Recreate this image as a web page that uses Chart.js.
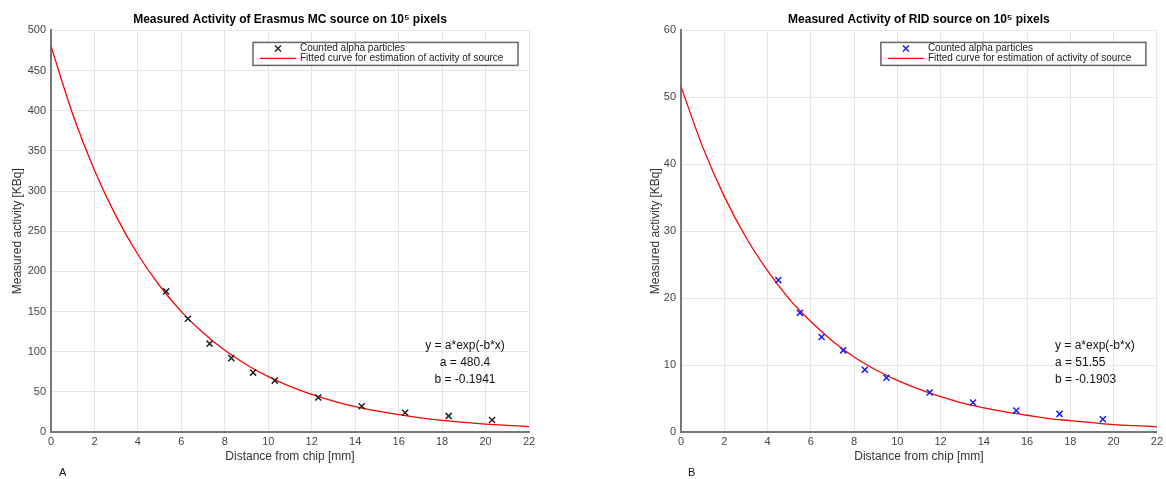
<!DOCTYPE html>
<html>
<head>
<meta charset="utf-8">
<script src="https://cdn.jsdelivr.net/npm/chart.js@4"></script>
<style>
  body { margin: 0; background: #fff; }
  .box { position: absolute; top: 0; width: 583px; height: 479px; }
</style>
</head>
<body>
<div class="box" style="left:0"><canvas id="chartA"></canvas></div>
<div class="box" style="left:583px"><canvas id="chartB"></canvas></div>
<script>
// measured points (distance in mm, activity in KBq)
const distA = [5.3, 6.3, 7.3, 8.3, 9.3, 10.3, 12.3, 14.3, 16.3, 18.3, 20.3];
const countsA = [175, 141, 110, 92, 74, 64, 43, 32, 24, 20, 15];
const distB = [4.5, 5.5, 6.5, 7.5, 8.5, 9.5, 11.5, 13.5, 15.5, 17.5, 19.5];
const countsB = [22.7, 17.8, 14.2, 12.2, 9.3, 8.1, 5.9, 4.4, 3.2, 2.7, 1.9];

// fitted curves
const fitX = [0, 1, 2, 3, 4, 5, 6, 7, 8, 9, 10, 11, 12, 13, 14, 15, 16, 17, 18, 19, 20, 21, 22];
const fitA = [480.4, 395.7, 325.9, 268.4, 221.0, 182.1, 149.9, 123.5, 101.7, 83.8, 69.0, 56.8,
              46.8, 38.5, 31.7, 26.2, 21.5, 17.7, 14.6, 12.0, 9.9, 8.2, 6.7];
const fitB = [51.6, 42.6, 35.2, 29.1, 24.1, 19.9, 16.5, 13.6, 11.2, 9.3, 7.7, 6.4,
              5.3, 4.3, 3.6, 3.0, 2.5, 2.0, 1.7, 1.4, 1.1, 0.95, 0.78];

const xMax = 22, xStep = 2;
const yMaxA = 500, yStepA = 50;
const yMaxB = 60, yStepB = 10;

const eqA = ['y = a*exp(-b*x)', 'a = 480.4', 'b = -0.1941'];
const eqB = ['y = a*exp(-b*x)', 'a = 51.55', 'b = -0.1903'];
const legendText = ['Counted alpha particles', 'Fitted curve for estimation of activity of source'];

const FONT = '"Liberation Sans", Arial, sans-serif';

function pts(xs, ys) {
    return xs.map((x, i) => ({ x: x, y: ys[i] }));
}

// legend box, fit equation and panel letter
function overlay(markColor, eq, eqAlign, eqX, letter, letterX) {
    return {
        id: 'overlay',
        afterDraw(chart) {
            const ctx = chart.ctx;
            const a = chart.chartArea;
            ctx.save();
            // legend
            const lx = a.right - 276, ly = a.top + 12, lw = 265, lh = 23;
            ctx.fillStyle = '#fff';
            ctx.fillRect(lx, ly, lw, lh);
            ctx.strokeStyle = '#666';
            ctx.lineWidth = 1.5;
            ctx.strokeRect(lx, ly, lw, lh);
            ctx.strokeStyle = markColor;
            ctx.lineWidth = 1.4;
            const mx = lx + 25, my = ly + 6;
            ctx.beginPath();
            ctx.moveTo(mx - 3, my - 3); ctx.lineTo(mx + 3, my + 3);
            ctx.moveTo(mx + 3, my - 3); ctx.lineTo(mx - 3, my + 3);
            ctx.stroke();
            ctx.strokeStyle = 'red';
            ctx.lineWidth = 1.2;
            ctx.beginPath();
            ctx.moveTo(lx + 7, ly + 16); ctx.lineTo(lx + 43, ly + 16);
            ctx.stroke();
            ctx.fillStyle = '#222';
            ctx.font = '10px ' + FONT;
            ctx.textBaseline = 'middle';
            ctx.textAlign = 'left';
            ctx.fillText(legendText[0], lx + 47, ly + 6);
            ctx.fillText(legendText[1], lx + 47, ly + 16);
            // equation
            ctx.font = '12px ' + FONT;
            ctx.fillStyle = '#111';
            ctx.textAlign = eqAlign;
            eq.forEach((t, i) => ctx.fillText(t, eqX, 346 + i * 17));
            // letter
            ctx.font = '11px ' + FONT;
            ctx.textAlign = 'left';
            ctx.fillText(letter, letterX, 473);
            ctx.restore();
        }
    };
}

function makeChart(id, title, xs, ys, fit, markColor, yMax, yStep, pad, yWidth, plugin) {
    return new Chart(document.getElementById(id), {
        type: 'scatter',
        data: {
            datasets: [{
                label: legendText[0],
                data: pts(xs, ys),
                pointStyle: 'crossRot',
                pointRadius: 4.3,
                borderWidth: 1.5,
                borderColor: markColor,
                showLine: false
            }, {
                label: legendText[1],
                data: pts(fitX, fit),
                showLine: true,
                pointRadius: 0,
                borderColor: 'red',
                borderWidth: 1.3,
                cubicInterpolationMode: 'monotone'
            }]
        },
        options: {
            responsive: true,
            maintainAspectRatio: false,
            animation: false,
            layout: { padding: pad },
            plugins: {
                legend: { display: false },
                tooltip: { enabled: false },
                title: {
                    display: true,
                    text: title,
                    fullSize: false,
                    color: '#000',
                    font: { family: FONT, size: 12, weight: 'bold' },
                    padding: { top: 12, bottom: 4 }
                }
            },
            scales: {
                x: {
                    type: 'linear',
                    min: 0,
                    max: xMax,
                    afterFit: s => { s.height = 32; },
                    ticks: { stepSize: xStep, color: '#444', padding: 3, font: { family: FONT, size: 11 } },
                    grid: { color: '#e6e6e6', drawTicks: false },
                    border: { color: '#777', width: 2 },
                    title: {
                        display: true,
                        text: 'Distance from chip [mm]',
                        color: '#333',
                        font: { family: FONT, size: 12 },
                        padding: { top: 6, bottom: 0 }
                    }
                },
                y: {
                    min: 0,
                    max: yMax,
                    afterFit: s => { s.width = yWidth; },
                    ticks: { stepSize: yStep, color: '#444', padding: 5, font: { family: FONT, size: 11 } },
                    grid: { color: '#e6e6e6', drawTicks: false },
                    border: { color: '#777', width: 2 },
                    title: {
                        display: true,
                        text: 'Measured activity [KBq]',
                        color: '#333',
                        font: { family: FONT, size: 12 },
                        padding: { top: 10, bottom: 0 }
                    }
                }
            }
        },
        plugins: [plugin]
    });
}

makeChart('chartA', 'Measured Activity of Erasmus MC source on 10\u2075 pixels', distA, countsA, fitA, '#222',
    yMaxA, yStepA, { left: 0, right: 54, top: 0, bottom: 15 }, 51,
    overlay('#222', eqA, 'center', 465, 'A', 59));

makeChart('chartB', 'Measured Activity of RID source on 10\u2075 pixels', distB, countsB, fitB, '#1a1aff',
    yMaxB, yStepB, { left: 55, right: 8, top: 0, bottom: 15 }, 43,
    overlay('#1a1aff', eqB, 'left', 472, 'B', 105));
</script>
</body>
</html>
